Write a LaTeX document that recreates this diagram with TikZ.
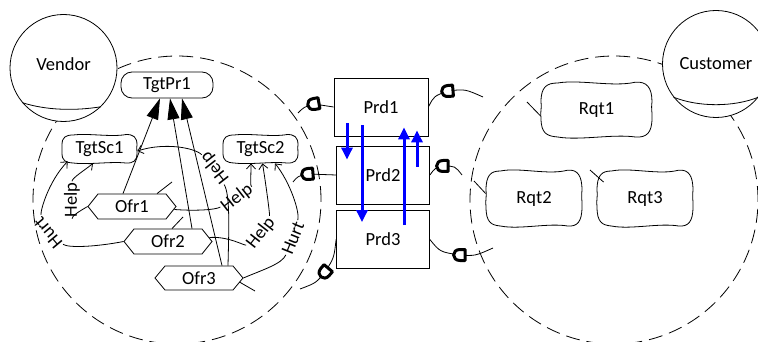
\documentclass[tikz,border=0pt]{standalone}
\usepackage{fontspec}
\setmainfont{Carlito}
\usetikzlibrary{arrows.meta}
\tikzset{
  txt/.style={inner sep=0pt, align=center},
  goal/.style={draw, rounded corners=11pt, minimum width=92pt, minimum height=26pt, inner sep=0pt},
  prod/.style={draw, fill=white, minimum width=93pt, minimum height=58pt, inner sep=0pt},
  actor/.style={draw, circle, fill=white, minimum size=107pt, inner sep=0pt},
  bound/.style={draw, circle, dash pattern=on 14pt off 7pt, minimum size=288pt, inner sep=0pt},
  contrib/.style={-{Straight Barb[length=5pt,width=9pt]}},
  meansend/.style={-{Triangle[length=21pt,width=12pt]}},
  bluearrow/.style={draw=blue, line width=3pt, -{Triangle[length=12pt,width=11pt]}},
  lbl/.style={inner sep=1pt},
  pics/softgoal/.style 2 args={code={
    \draw[xscale=#1,yscale=#2] (-1,-0.3)
      .. controls (-1,-0.85) and (-0.9,-1.0) .. (-0.7,-1.0)
      .. controls (-0.3,-1.14) and (0.3,-0.84) .. (0.7,-1.03)
      .. controls (0.9,-1.06) and (1,-0.85) .. (1,-0.3)
      .. controls (0.98,0) and (1.01,0.1) .. (1,0.3)
      .. controls (1,0.85) and (0.9,1.03) .. (0.7,1.0)
      .. controls (0.3,0.88) and (-0.3,1.14) .. (-0.7,1.0)
      .. controls (-0.9,0.97) and (-1,0.85) .. (-1,0.3)
      .. controls (-1.02,0.1) and (-0.98,-0.1) .. (-1,-0.3) -- cycle;
  }},
  pics/task/.style 2 args={code={
    \draw (-#1,0) -- ({-#1+10},-#2) -- ({#1-10},-#2) -- (#1,0) -- ({#1-10},#2) -- ({-#1+10},#2) -- cycle;
  }},
  pics/dep/.style={code={
    \draw[line width=3pt, fill=white, line join=round, rotate=#1]
      (5,-5.5) -- (0,-5.5) .. controls (-8.5,-5.5) and (-8.5,5.5) .. (0,5.5) -- (5,5.5) -- cycle;
  }}
}
\begin{document}
\begin{tikzpicture}[x=1pt, y=-1pt, line width=0.8pt, font=\fontsize{18.5}{21}\selectfont]
\useasboundingbox (0,0) rectangle (758,342);

% boundaries
\node[bound] (VB) at (177,200) {};
\node[bound] (CB) at (614,200) {};

% actors
\node[actor, text depth=7pt] (Vendor) at (63.5,68) {Vendor};
\draw (Vendor.220) .. controls +(25,8) and +(-25,4) .. (Vendor.314);
\node[actor] (Customer) at (716,64) {Customer};
\draw (Customer.218) .. controls +(25,10) and +(-25,10) .. (Customer.322);

% vendor elements
\node[goal] (TgtPr1) at (167,85) {TgtPr1};
\node[txt, minimum width=75pt, minimum height=28pt] (TgtSc1) at (99.5,149) {TgtSc1};
\pic at (TgtSc1) {softgoal={37.5}{14}};
\node[txt, minimum width=75pt, minimum height=28pt] (TgtSc2) at (260.5,149) {TgtSc2};
\pic at (TgtSc2) {softgoal={37.5}{14}};
\node[txt, minimum width=88pt, minimum height=25pt] (Ofr1) at (132,206.5) {Ofr1};
\pic at (Ofr1) {task={44}{12.5}};
\node[txt, minimum width=88pt, minimum height=25pt] (Ofr2) at (168,241.5) {Ofr2};
\pic at (Ofr2) {task={44}{12.5}};
\node[txt, minimum width=88pt, minimum height=24pt] (Ofr3) at (199,278) {Ofr3};
\pic at (Ofr3) {task={44}{12}};

% customer elements
\node[txt, minimum width=111pt, minimum height=54pt] (Rqt1) at (596.5,110) {Rqt1};
\pic at (Rqt1) {softgoal={55.5}{27}};
\node[txt, minimum width=96pt, minimum height=55pt] (Rqt2) at (534,198.5) {Rqt2};
\pic at (Rqt2) {softgoal={48}{27.5}};
\node[txt, minimum width=96pt, minimum height=55pt] (Rqt3) at (645,198.5) {Rqt3};
\pic at (Rqt3) {softgoal={48}{27.5}};

% products
\node[prod, minimum width=94pt] (Prd1) at (381,107) {Prd1};
\node[prod] (Prd2) at (383,175) {Prd2};
\node[prod] (Prd3) at (383,239.5) {Prd3};

% means-end links
\draw[meansend] ([xshift=-9pt]Ofr1.north) -- ([xshift=-7pt]TgtPr1.south);
\draw[meansend] ([xshift=24pt]Ofr2.north) -- ([xshift=3pt]TgtPr1.south);
\draw[meansend] ([xshift=23pt]Ofr3.north) -- ([xshift=15pt]TgtPr1.south);

% contribution labels
\node[lbl, rotate=90]  (hA) at (72,200) {Help};
\node[lbl, rotate=130] (hB) at (48,233) {Hurt};
\node[lbl, rotate=128] (hC) at (215,168) {Help};
\node[lbl, rotate=38]  (hD) at (237,198) {Help};
\node[lbl, rotate=52]  (hE) at (261,233) {Help};
\node[lbl, rotate=68]  (hF) at (293,238) {Hurt};

% contribution links
\draw (Ofr1.west) .. controls (78,212) and (72,216) .. (hA);
\draw[contrib] (hA) .. controls (72,178) and (85,170) .. ([xshift=-6.5pt]TgtSc1.south);
\draw (Ofr2.west) .. controls (95,247) and (68,248) .. (hB);
\draw[contrib] (hB) .. controls (40,212) and (48,182) .. ([xshift=6pt,yshift=2pt]TgtSc1.south west);
\draw ([xshift=29pt]Ofr3.north) .. controls (229,225) and (230,195) .. (hC);
\draw[contrib] (hC) .. controls (195,148) and (165,142) .. ([yshift=-2pt]TgtSc1.east);
\draw ([xshift=-2pt,yshift=-3pt]Ofr1.east) .. controls (195,211) and (215,210) .. (hD);
\draw[contrib] (hD) .. controls (250,188) and (251,178) .. ([xshift=-9.5pt]TgtSc2.south);
\draw ([xshift=-3pt,yshift=4pt]Ofr2.east) .. controls (228,236) and (245,246) .. (hE);
\draw[contrib] (hE) .. controls (270,215) and (266,185) .. ([xshift=2pt]TgtSc2.south);
\draw (Ofr3.east) .. controls (262,270) and (282,264) .. (hF);
\draw[contrib] (hF) .. controls (300,212) and (290,182) .. ([xshift=14.5pt]TgtSc2.south);

% stubs
\coordinate (o1e) at (172,182);
\coordinate (o2e) at (183,217);
\coordinate (o3e) at (255,291);
\draw ([xshift=25pt]Ofr1.north) -- (o1e);
\draw ([xshift=4pt]Ofr2.north) -- (o2e);
\draw ([xshift=-4pt,yshift=-4pt]Ofr3.east) -- (o3e);
\coordinate (r1s) at (527,102);
\coordinate (r2s) at (474,181);
\coordinate (r3s) at (590,170);
\draw (r1s) -- ([yshift=-6pt]Rqt1.west);
\draw (r2s) -- ([yshift=5pt]Rqt2.west);
\draw (r3s) -- ([xshift=7pt,yshift=-11.5pt]Rqt3.north west);

% dependency links
\coordinate (d1s) at (298,113);
\coordinate (D1) at (314,104);
\draw (d1s) .. controls (304,107) .. (D1) -- (Prd1.west);
\coordinate (D2) at (448,91);
\coordinate (d2e) at (483,97);
\draw (Prd1.east) .. controls (434,96) .. (D2) .. controls (465,89) .. (d2e);
\coordinate (d3s) at (293,182);
\coordinate (D3) at (308,174);
\draw (d3s) .. controls (298,176) .. (D3) -- (Prd2.west);
\coordinate (D4) at (443,166);
\coordinate (d4e) at (462,175);
\draw (Prd2.east) .. controls (435,168) .. (D4) .. controls (455,166) .. (d4e);
\coordinate (D5) at (325,272);
\coordinate (d5e) at (300,289);
\draw (Prd3.west) .. controls (334,258) .. (D5) .. controls (316,283) .. (d5e);
\coordinate (D6) at (460,255);
\coordinate (d6e) at (493,248);
\draw (Prd3.east) .. controls (440,252) .. (D6) .. controls (475,256) .. (d6e);
\pic at (D1) {dep=10};
\pic at (D2) {dep=5};
\pic at (D3) {dep=5};
\pic at (D4) {dep=0};
\pic at (D5) {dep=50};
\pic at (D6) {dep=0};

% blue arrows
\draw[bluearrow] ([xshift=-34pt,yshift=13pt]Prd1.south) -- ([xshift=-36pt,yshift=-14pt]Prd2.north);
\draw[bluearrow] ([xshift=-19pt,yshift=11pt]Prd1.south) -- ([xshift=-21pt,yshift=-12pt]Prd3.north);
\draw[bluearrow] ([xshift=21pt,yshift=-15pt]Prd3.north) -- ([xshift=23pt,yshift=9pt]Prd1.south);
\draw[bluearrow] ([xshift=34pt,yshift=-21pt]Prd2.north) -- ([xshift=36pt,yshift=6pt]Prd1.south);
\end{tikzpicture}
\end{document}
